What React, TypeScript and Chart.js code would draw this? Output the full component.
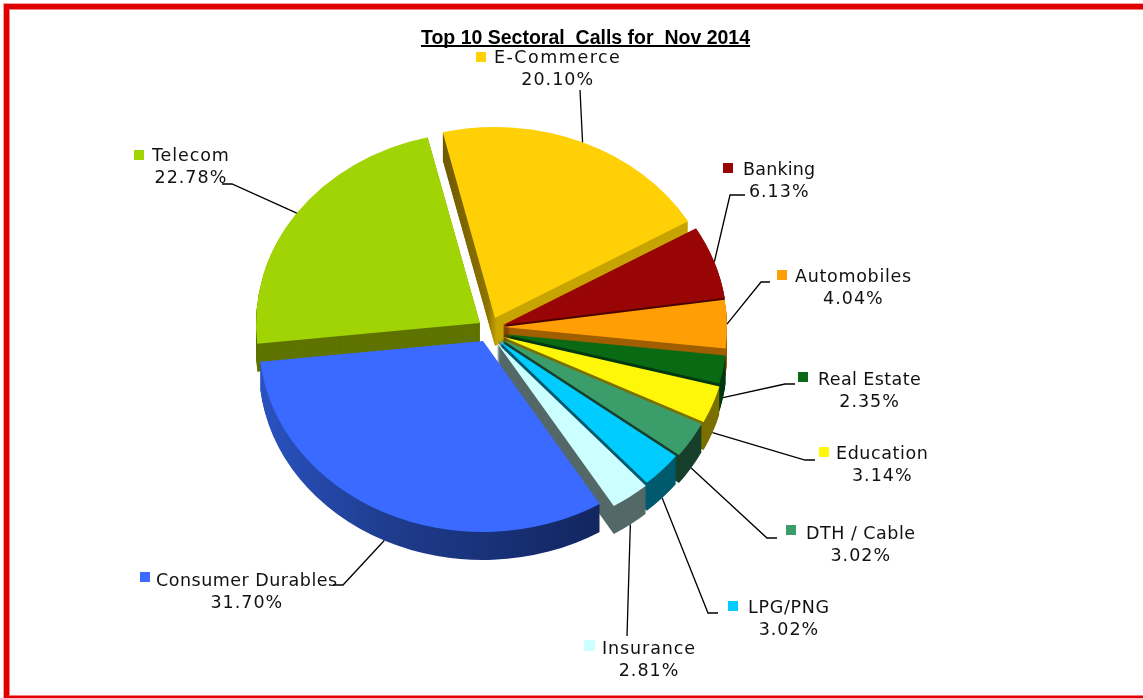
import React, { useEffect, useRef } from "react";
import { Chart, registerables } from "chart.js";

Chart.register(...registerables);

// Call share per sector, clockwise from E-Commerce
const sectors = [
  "E-Commerce",
  "Banking",
  "Automobiles",
  "Real Estate",
  "Education",
  "DTH / Cable",
  "LPG/PNG",
  "Insurance",
  "Consumer Durables",
  "Telecom",
];
const shares = [20.1, 6.13, 4.04, 2.35, 3.14, 3.02, 3.02, 2.81, 31.7, 22.78];

const faceColors = [
  "#ffd005", "#990505", "#ff9f05", "#0a6a14", "#fff70a",
  "#3b9e6a", "#00ccff", "#ccffff", "#3a6aff", "#a0d405",
];
// Side wall shades: [page x, colour] stops running left to right
const wallColors: [number, string][][] = [
  [[443, "#6f5900"], [488, "#8f7400"], [497, "#c8a400"]],
  [[0, "#4d0000"]],
  [[0, "#a05f00"]],
  [[0, "#003a10"]],
  [[0, "#7b7000"]],
  [[0, "#17402c"]],
  [[0, "#005a6e"]],
  [[0, "#546868"]],
  [[262, "#2a52c0"], [380, "#1f3d90"], [600, "#12265f"]],
  [[0, "#5f7300"]],
];
// Where each exploded slice's point sits on the page
const sliceTips = [
  [495, 318],
  [503, 325],
  [503, 327],
  [503, 334],
  [503, 337],
  [501, 339],
  [498, 340],
  [497, 343],
  [483, 341],
  [480, 323],
];

// Label layout: text left, name centre y, swatch x, swatch y, swatch size, letter spacing
const labelSpots = [
  [494, 58, 476, 52, 10, 1.5],
  [743, 170, 723, 163, 10, 0.2],
  [795, 277, 777, 270, 10, 0.7],
  [818, 380, 798, 372, 10, 0.4],
  [836, 454, 819, 447, 10, 0.6],
  [806, 534, 786, 525, 10, 0.5],
  [748, 608, 728, 601, 10, 0.7],
  [602, 649, 584, 640, 11, 0.9],
  [156, 581, 140, 572, 10, 0.5],
  [152, 156, 134, 150, 10, 0.9],
];
// Leader elbows: elbow x, elbow y, end x
const elbows = [
  [580, 90, 580],
  [730, 195, 745],
  [761, 282, 770],
  [785, 384, 795],
  [805, 460, 815],
  [767, 538, 777],
  [708, 613, 718],
  [627, 636, 627],
  [343, 585, 333],
  [232, 184, 222],
];

const RX = 224;
const RY = 191;
const DEPTH = 28;
const LABEL_FONT = "17.5px 'DejaVu Sans'";

function placeSlice(ctx: CanvasRenderingContext2D, arc: any, i: number, dy: number) {
  ctx.translate(sliceTips[i][0], sliceTips[i][1] + dy);
  ctx.scale(RX / arc.outerRadius, RY / arc.outerRadius);
  ctx.translate(-arc.x, -arc.y);
}

const tiltedPie = {
  id: "tiltedPie",
  beforeDatasetDraw(chart: any) {
    const ctx: CanvasRenderingContext2D = chart.ctx;
    const arcs = chart.getDatasetMeta(0).data;
    for (let dy = DEPTH; dy >= 1; dy--) {
      arcs.forEach((arc: any, i: number) => {
        ctx.save();
        placeSlice(ctx, arc, i, dy);
        const stops = wallColors[i];
        let fill: any = stops[0][1];
        if (stops.length > 1) {
          const sx = RX / arc.outerRadius;
          const toPie = (x: number) => (x - sliceTips[i][0]) / sx + arc.x;
          const first = stops[0][0];
          const last = stops[stops.length - 1][0];
          const g = ctx.createLinearGradient(toPie(first), 0, toPie(last), 0);
          stops.forEach(([x, c]) => g.addColorStop((x - first) / (last - first), c));
          fill = g;
        }
        const saved = arc.options;
        arc.options = { ...saved, backgroundColor: fill, borderWidth: 0 };
        arc.draw(ctx);
        arc.options = saved;
        ctx.restore();
      });
    }
    arcs.forEach((arc: any, i: number) => {
      ctx.save();
      placeSlice(ctx, arc, i, 0);
      arc.draw(ctx);
      ctx.restore();
    });
    return false;
  },
  afterDraw(chart: any) {
    const ctx: CanvasRenderingContext2D = chart.ctx;
    const arcs = chart.getDatasetMeta(0).data;
    ctx.save();

    // Title underline follows the title's measured width
    const title = chart.options.plugins.title;
    ctx.font = `bold ${title.font.size}px ${title.font.family}`;
    const tw = ctx.measureText(title.text).width;
    const tx = chart.titleBlock.left + chart.titleBlock.width / 2;
    ctx.fillStyle = "#000";
    ctx.fillRect(tx - tw / 2, 45, tw, 2);

    arcs.forEach((arc: any, i: number) => {
      const mid = (arc.startAngle + arc.endAngle) / 2;
      const ax = sliceTips[i][0] + Math.cos(mid) * RX;
      const front = Math.sin(mid) > 0.05;
      const ay = sliceTips[i][1] + Math.sin(mid) * RY + (front ? DEPTH : 0);

      const [ex, ey, endX] = elbows[i];
      ctx.strokeStyle = "#000";
      ctx.lineWidth = 1.3;
      ctx.beginPath();
      ctx.moveTo(ax, ay);
      ctx.lineTo(ex, ey);
      ctx.lineTo(endX, ey);
      ctx.stroke();

      const [textX, textY, swX, swY, sw, spacing] = labelSpots[i];
      ctx.fillStyle = faceColors[i];
      ctx.fillRect(swX, swY, sw, sw);

      ctx.font = LABEL_FONT;
      ctx.fillStyle = "#111";
      ctx.textBaseline = "middle";
      ctx.textAlign = "left";
      const name = sectors[i];
      (ctx as any).letterSpacing = `${spacing}px`;
      ctx.fillText(name, textX, textY);
      const w = ctx.measureText(name).width;
      (ctx as any).letterSpacing = "1px";
      ctx.textAlign = "center";
      ctx.fillText(`${shares[i].toFixed(2)}%`, textX + w / 2, textY + 22.5);
      (ctx as any).letterSpacing = "0px";
    });
    ctx.restore();
  },
};

export default function App() {
  const ref = useRef<HTMLCanvasElement>(null);

  useEffect(() => {
    document.body.style.margin = "0";
    document.body.style.overflow = "hidden";
    document.body.style.background = "#fff";
    const chart = new Chart(ref.current!, {
      type: "pie",
      data: {
        labels: sectors,
        datasets: [
          {
            data: shares,
            backgroundColor: faceColors,
            borderWidth: 0,
            clip: false,
          } as any,
        ],
      },
      options: {
        animation: false,
        responsive: false,
        rotation: -13.5,
        radius: 240,
        layout: { padding: { left: 28, top: 27 } },
        plugins: {
          legend: { display: false },
          tooltip: { enabled: false },
          title: {
            display: true,
            text: "Top 10 Sectoral  Calls for  Nov 2014",
            color: "#000",
            font: { family: "'Liberation Sans'", size: 19.5, weight: "bold" },
            padding: { top: 0, bottom: 0 },
          },
        },
      },
      plugins: [tiltedPie],
    } as any);
    return () => chart.destroy();
  }, []);

  return (
    <div style={{ position: "relative", width: 1143, height: 698, overflow: "hidden", background: "#fff" }}>
      <div
        style={{
          position: "absolute",
          left: 4,
          top: 4,
          width: 1400,
          height: 687,
          boxSizing: "content-box",
          borderLeft: "5px solid #e00000",
          borderTop: "5px solid #e00000",
          borderBottom: "5px solid #e00000",
          boxShadow: "0 0 0 1px #f4a0a0, inset 0 0 0 1px #f08080",
        }}
      />
      <canvas ref={ref} width={1143} height={698} style={{ position: "absolute", left: 0, top: 0 }} />
    </div>
  );
}
